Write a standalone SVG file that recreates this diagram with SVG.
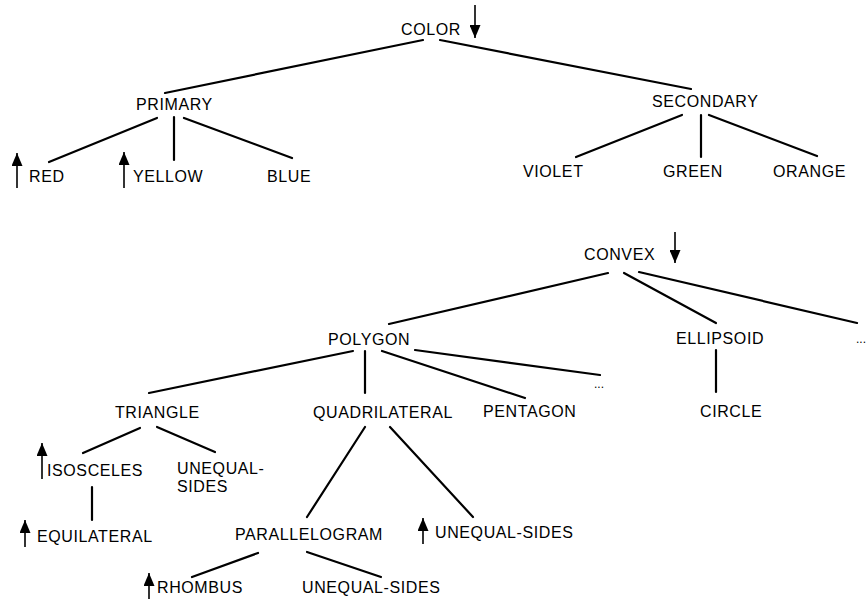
<svg xmlns="http://www.w3.org/2000/svg" width="868" height="599" viewBox="0 0 868 599">
<style>
text{font-family:"Liberation Sans",Arial,sans-serif;font-size:16px;letter-spacing:0.6px;fill:#000}
.dots{font-size:12px;letter-spacing:0}
.e line{stroke:#000;stroke-width:2.2;stroke-linecap:round}
.a line{stroke:#000;stroke-width:1.6;marker-end:url(#ah)}
</style>
<defs>
<marker id="ah" viewBox="0 0 13 11" refX="13" refY="5.5" markerWidth="13" markerHeight="11" markerUnits="userSpaceOnUse" orient="auto">
<path d="M0,0 L13,5.5 L0,11 z" fill="#000"/>
</marker>
</defs>
<rect width="868" height="599" fill="#fff"/>
<g id="connectors" class="e">
<line x1="423" y1="40" x2="165" y2="93"/>
<line x1="440" y1="40" x2="691" y2="89"/>
<line x1="157" y1="118" x2="49" y2="162"/>
<line x1="174" y1="117" x2="174" y2="160"/>
<line x1="184" y1="118" x2="292" y2="158"/>
<line x1="682" y1="115" x2="576" y2="157"/>
<line x1="701" y1="115" x2="701" y2="157"/>
<line x1="709" y1="115" x2="817" y2="156"/>
<line x1="608" y1="273" x2="389" y2="324"/>
<line x1="624" y1="273" x2="716" y2="323"/>
<line x1="639" y1="272" x2="857" y2="323"/>
<line x1="716" y1="350" x2="716" y2="392"/>
<line x1="353" y1="351" x2="149" y2="393"/>
<line x1="365" y1="351" x2="365" y2="393"/>
<line x1="382" y1="351" x2="525" y2="398"/>
<line x1="415" y1="350" x2="600" y2="375"/>
<line x1="140" y1="428" x2="83" y2="453"/>
<line x1="157" y1="427" x2="215" y2="452"/>
<line x1="92" y1="487" x2="92" y2="520"/>
<line x1="365" y1="427" x2="307" y2="517"/>
<line x1="390" y1="427" x2="473" y2="517"/>
<line x1="258" y1="553" x2="192" y2="577"/>
<line x1="307" y1="552" x2="381" y2="577"/>
</g>
<g id="arrows" class="a">
<line x1="475" y1="5" x2="475" y2="38"/>
<line x1="675" y1="232" x2="675" y2="263"/>
<line x1="17" y1="188" x2="17" y2="153"/>
<line x1="124" y1="188" x2="124" y2="152"/>
<line x1="42" y1="479" x2="42" y2="443"/>
<line x1="25" y1="547" x2="25" y2="520"/>
<line x1="423" y1="544" x2="423" y2="518"/>
<line x1="149" y1="599" x2="149" y2="573"/>
</g>
<g id="n-color"><text x="401" y="35">COLOR</text></g>
<g id="n-primary"><text x="136" y="110">PRIMARY</text></g>
<g id="n-secondary"><text x="652" y="107">SECONDARY</text></g>
<g id="n-red"><text x="29" y="182">RED</text></g>
<g id="n-yellow"><text x="133" y="182">YELLOW</text></g>
<g id="n-blue"><text x="267" y="182">BLUE</text></g>
<g id="n-violet"><text x="523" y="177">VIOLET</text></g>
<g id="n-green"><text x="663" y="177">GREEN</text></g>
<g id="n-orange"><text x="773" y="177">ORANGE</text></g>
<g id="n-convex"><text x="584" y="260">CONVEX</text></g>
<g id="n-polygon"><text x="328" y="345">POLYGON</text></g>
<g id="n-ellipsoid"><text x="676" y="344">ELLIPSOID</text></g>
<g id="n-more1"><text class="dots" x="856" y="343">...</text></g>
<g id="n-circle"><text x="700" y="417">CIRCLE</text></g>
<g id="n-more2"><text class="dots" x="594" y="388">...</text></g>
<g id="n-triangle"><text x="115" y="418">TRIANGLE</text></g>
<g id="n-quadrilateral"><text x="313" y="418">QUADRILATERAL</text></g>
<g id="n-pentagon"><text x="483" y="417">PENTAGON</text></g>
<g id="n-isosceles"><text x="47" y="476">ISOSCELES</text></g>
<g id="n-unequal1"><text x="177" y="474">UNEQUAL-</text><text x="177" y="492">SIDES</text></g>
<g id="n-equilateral"><text x="37" y="542">EQUILATERAL</text></g>
<g id="n-parallelogram"><text x="235" y="540">PARALLELOGRAM</text></g>
<g id="n-unequal2"><text x="435" y="538">UNEQUAL-SIDES</text></g>
<g id="n-rhombus"><text x="157" y="593">RHOMBUS</text></g>
<g id="n-unequal3"><text x="302" y="593">UNEQUAL-SIDES</text></g>
</svg>
